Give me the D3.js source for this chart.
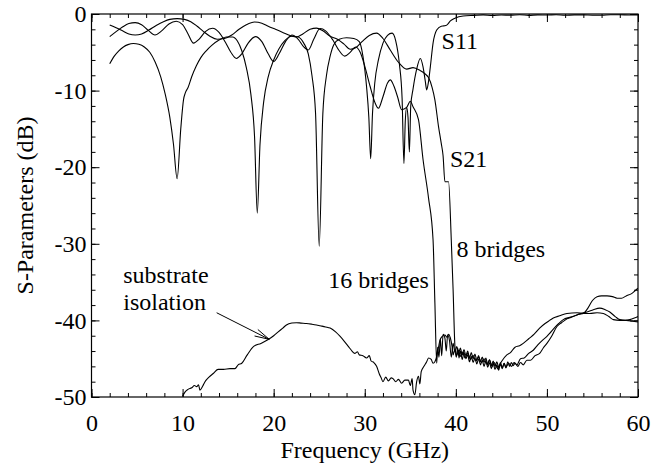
<!DOCTYPE html>
<html>
<head>
<meta charset="utf-8">
<script src="https://cdn.jsdelivr.net/npm/d3@7"></script>
<style>
  html, body { margin: 0; padding: 0; background: #fff; }
  svg { display: block; }
</style>
</head>
<body>
<svg id="chart" width="670" height="471"></svg>
<script>
// ---------------- data ----------------
const xTicks = [0, 10, 20, 30, 40, 50, 60];
const yTicks = [0, -10, -20, -30, -40, -50];
const xLabel = "Frequency (GHz)";
const yLabel = "S-Parameters (dB)";

// S11 (reflection, deep dips), GHz / dB
const s11Freq = [2, 2.5, 3, 3.5, 4, 4.6, 5.2, 5.8, 6.4, 7, 7.6, 8.1, 8.6, 9.0, 9.4, 9.8, 10.1, 10.3, 10.6, 11, 11.5, 12, 12.6, 13.2, 14, 14.8, 15.5, 16.0, 16.5, 17.0, 17.5, 17.9, 18.2, 18.5, 18.9, 19.4, 20, 20.6, 21.2, 22, 22.7, 23.3, 23.8, 24.2, 24.6, 25.0, 25.4, 25.8, 26.2, 26.6, 27.2, 28, 28.8, 29.4, 29.8, 30.2, 30.45, 30.65, 30.85, 31.1, 31.5, 32.0, 32.5, 33.0, 33.4, 33.8, 34.1, 34.3, 34.45, 34.6, 34.75, 34.9, 35.05, 35.3, 35.7, 36.1, 36.4, 36.65, 36.8, 36.95, 37.2, 37.5, 37.9, 38.4, 38.7, 39.0, 39.4, 39.9, 40.8, 42, 43, 44, 45, 46, 47, 48, 49, 50, 51, 52, 53, 54, 55, 56, 57, 58, 59, 60];
const s11Db   = [-6.5, -5.5, -4.8, -4.3, -4.0, -3.85, -3.95, -4.3, -5.0, -6.3, -8.2, -10.5, -13.5, -17, -21.5, -15, -11.2, -10.3, -9.6, -8.2, -6.8, -5.7, -4.8, -4.1, -3.4, -3.0, -3.0, -3.5, -4.8, -7, -10.5, -16, -26, -17, -11.5, -8.2, -6.0, -4.5, -3.5, -2.9, -3.0, -3.8, -5.2, -8, -13, -30.3, -13, -8, -5.5, -4.0, -3.3, -3.1, -3.2, -3.6, -5.5, -9.5, -13.5, -18.9, -13, -9, -6.0, -3.8, -2.8, -2.5, -3.5, -6.5, -11, -19.5, -14, -12.2, -13.5, -18.0, -12, -9.8, -7.2, -5.8, -6.9, -8.8, -9.9, -9.2, -6.9, -3.8, -2.1, -1.6, -1.55, -1.45, -0.9, -0.55, -0.26, -0.18, -0.12, -0.2, -0.14, -0.15, -0.1, -0.18, -0.12, -0.14, -0.1, -0.17, -0.12, -0.12, -0.16, -0.16, -0.1, -0.1, -0.14, -0.12];

// S21, 8 bridges
const s21EightFreq = [2, 2.7, 3.4, 4.1, 4.8, 5.5, 6.3, 7.1, 7.9, 8.6, 9.4, 10.2, 10.9, 11.6, 12.3, 13.0, 13.8, 14.6, 15.4, 16.2, 17.0, 17.9, 18.7, 19.4, 20.2, 21.0, 21.8, 22.5, 23.2, 24.0, 24.7, 25.4, 26.2, 27.0, 27.7, 28.4, 29.0, 29.7, 30.5, 31.3, 32.0, 32.8, 33.7, 34.6, 35.3, 36.1, 36.6, 37.0, 37.4, 37.7, 38.1, 38.4, 38.6, 38.8, 39.2, 39.5, 39.7, 39.9, 40.05, 40.2, 40.35, 40.5, 40.7, 40.9, 41.1, 41.3, 41.5, 41.7, 41.9, 42.1, 42.3, 42.5, 42.7, 42.9, 43.1, 43.3, 43.5, 43.7, 43.9, 44.1, 44.3, 44.5, 44.7, 44.9, 45.1, 45.3, 45.5, 45.7, 45.9, 46.1, 46.3, 46.5, 46.8, 47.1, 47.4, 47.8, 48.2, 48.7, 49.2, 49.6, 50.0, 50.5, 51.1, 51.6, 52.2, 52.9, 53.5, 54.0, 54.5, 55.0, 55.5, 56.0, 56.6, 57.2, 57.7, 58.2, 58.7, 59.3, 59.7, 60];
const s21EightDb   = [-1.44, -1.8, -2.2, -2.6, -2.74, -2.6, -2.1, -1.5, -1.0, -0.7, -0.6, -0.7, -1.0, -1.6, -2.3, -2.9, -3.3, -3.2, -2.74, -2.0, -1.4, -1.05, -1.2, -1.6, -2.0, -2.4, -2.8, -3.0, -2.6, -2.0, -1.85, -2.2, -2.9, -3.3, -3.9, -4.6, -4.4, -3.6, -2.8, -2.5, -3.2, -4.7, -6.3, -7.2, -7.0, -7.4, -7.8, -8.3, -9.6, -11.2, -14.7, -16.9, -18.5, -21.9, -21.9, -29.5, -36, -43.4, -44.8, -43.6, -44.9, -44.0, -45.1, -44.2, -45.0, -44.5, -45.4, -44.7, -45.5, -44.9, -45.7, -45.0, -45.8, -45.2, -46.0, -45.3, -46.1, -45.5, -46.3, -45.6, -46.4, -45.8, -46.5, -45.7, -46.3, -45.6, -46.2, -45.4, -46.0, -45.5, -45.9, -45.6, -46.0, -45.5, -45.8, -45.2, -45.2, -44.6, -44.3, -43.6, -43.0, -42.1, -40.8, -40.3, -39.8, -39.5, -39.2, -39.1, -38.4, -37.4, -36.9, -36.8, -36.8, -36.9, -37.1, -37.1, -36.8, -36.5, -36.1, -35.8];

// S21, 16 bridges
const s21SixteenFreq = [2, 2.7, 3.4, 4.1, 4.8, 5.5, 6.2, 6.97, 7.7, 8.5, 9.3, 10.0, 10.6, 11.2, 11.8, 12.5, 13.3, 14.0, 14.7, 15.3, 15.9, 16.5, 17.2, 18.0, 18.7, 19.4, 20.0, 20.6, 21.3, 22.0, 22.7, 23.3, 23.8, 24.4, 25.1, 25.7, 26.5, 27.2, 27.8, 28.4, 29.0, 29.5, 30.0, 30.6, 31.1, 31.5, 32.0, 32.5, 32.8, 33.2, 33.6, 34.05, 34.6, 35.0, 35.3, 35.9, 36.4, 37.0, 37.5, 37.7, 37.9, 38.0, 38.15, 38.3, 38.45, 38.6, 38.8, 38.95, 39.1, 39.3, 39.5, 39.7, 39.9, 40.1, 40.3, 40.5, 40.7, 40.9, 41.1, 41.3, 41.5, 41.7, 41.9, 42.1, 42.3, 42.5, 42.7, 42.9, 43.1, 43.3, 43.5, 43.7, 43.9, 44.1, 44.3, 44.5, 44.7, 44.9, 45.1, 45.3, 45.5, 45.8, 46.1, 46.4, 46.7, 47.1, 47.5, 48.0, 48.5, 49.0, 49.5, 50.0, 50.3, 50.8, 51.3, 51.8, 52.5, 53.3, 54.0, 54.4, 55.1, 55.8, 56.4, 56.9, 57.5, 58.0, 58.6, 59.1, 59.6, 60];
const s21SixteenDb   = [-2.96, -2.3, -1.7, -1.25, -1.13, -1.4, -2.1, -2.74, -2.2, -1.3, -0.95, -1.4, -2.6, -3.8, -3.3, -2.3, -1.87, -2.4, -3.7, -5.0, -5.8, -5.2, -3.8, -2.96, -3.6, -5.2, -6.2, -5.2, -3.6, -2.74, -3.3, -4.3, -4.7, -3.3, -1.9, -2.2, -3.4, -4.8, -5.5, -5.0, -4.3, -5.0, -6.8, -9.5, -11.5, -12.3, -10.8, -9.0, -8.6, -9.4, -10.8, -12.5, -12.2, -11.4, -12.1, -13.8, -19, -24, -29.5, -37.7, -45.6, -43.5, -44.8, -42.4, -44.6, -41.8, -42.3, -44.0, -41.9, -42.6, -44.8, -43.0, -44.1, -43.4, -44.3, -43.6, -44.5, -43.8, -44.6, -44.0, -44.9, -44.2, -45.0, -44.4, -45.2, -44.6, -45.4, -44.8, -45.5, -44.9, -45.8, -45.1, -45.9, -45.3, -46.0, -45.4, -46.1, -45.5, -46.2, -45.6, -46.1, -45.6, -46.0, -45.5, -45.8, -45.0, -44.9, -44.3, -43.9, -43.2, -42.6, -42.1, -41.7, -41.0, -40.4, -39.9, -39.6, -39.3, -39.0, -38.9, -38.6, -38.4, -38.6, -38.9, -39.5, -39.9, -40.0, -39.9, -39.7, -39.5];

// substrate isolation
const isoFreq = [10.0, 10.3, 10.6, 11.0, 11.3, 11.55, 11.75, 11.9, 12.2, 12.46, 12.9, 13.4, 13.9, 14.5, 15.2, 15.75, 16.1, 16.5, 17.1, 17.8, 18.6, 19.4, 20.0, 20.5, 21.0, 21.4, 22.0, 22.5, 23.0, 23.6, 24.2, 24.7, 25.1, 25.7, 26.2, 26.8, 27.3, 27.8, 28.2, 28.6, 28.9, 29.2, 29.4, 29.8, 30.2, 30.5, 30.7, 31.0, 31.3, 31.6, 31.8, 32.0, 32.3, 32.6, 32.9, 33.1, 33.4, 33.7, 34.05, 34.4, 34.8, 35.0, 35.2, 35.3, 35.5, 35.7, 35.9, 36.05, 36.2, 36.5, 36.8, 37.0, 37.3, 37.5, 37.7, 37.9, 38.1, 38.25, 38.5, 38.8, 39.0, 39.2, 39.4, 39.6, 39.7, 39.9, 40.1, 40.3, 40.5, 40.8, 41.0, 41.3, 41.6, 41.9, 42.2, 42.5, 42.8, 43.1, 43.4, 43.7, 44.0, 44.2, 44.6, 45.0, 45.6, 46.0, 46.5, 47.0, 47.4, 48.0, 48.6, 49.2, 49.8, 50.3, 50.7, 51.4, 52.2, 53.3, 54.0, 54.7, 55.5, 56.2, 56.8, 57.3, 58.0, 58.7, 59.4, 60];
const isoDb   = [-49.9, -49.3, -49.0, -48.8, -48.5, -48.65, -48.4, -49.1, -48.6, -48.0, -47.4, -46.9, -46.4, -46.4, -46.3, -46.3, -45.8, -45.6, -44.5, -43.4, -43.0, -42.5, -42.0, -41.5, -41.0, -40.6, -40.35, -40.3, -40.35, -40.4, -40.5, -40.6, -40.7, -40.85, -41.0, -41.5, -42.1, -42.8, -43.4, -44.0, -44.3, -44.1, -44.5, -44.6, -44.9, -44.6, -45.3, -45.5, -46.0, -47.0, -47.5, -48.0, -47.4, -47.9, -47.5, -47.6, -48.0, -47.7, -48.2, -47.8, -47.8, -48.5, -47.6, -49.1, -49.7, -48.0, -47.3, -48.3, -46.7, -46.0, -45.4, -44.9, -45.1, -45.6, -45.4, -44.7, -43.5, -42.6, -42.1, -41.9, -42.2, -41.8, -42.3, -43.5, -44.5, -43.8, -44.6, -43.9, -44.7, -44.1, -44.9, -44.3, -45.1, -44.6, -45.3, -44.8, -45.5, -45.0, -45.7, -45.2, -46.0, -45.5, -46.3, -45.4, -44.5, -44.2, -43.5, -43.3, -43.0, -42.4, -41.8, -41.0, -40.4, -40.0, -39.7, -39.4, -39.1, -39.0, -39.1, -39.1, -39.0, -39.1, -39.5, -39.9, -40.0, -40.0, -40.1, -40.2];

// annotation texts (data-unit anchors)
const annotations = [
  { text: "S11", f: 38.43, db: -4.57 },
  { text: "S21", f: 39.35, db: -19.93 },
  { text: "8 bridges", f: 40.08, db: -31.7 },
  { text: "16 bridges", f: 25.99, db: -35.8 },
  { text: "substrate", f: 3.49, db: -35.16 },
  { text: "isolation", f: 3.49, db: -38.7 }
];
const arrowFrom = [13.74, -39.0];
const arrowTo = [19.51, -42.47];

// ---------------- chart ----------------
const FONT = '"Liberation Serif", "Tinos", "Times New Roman", "Nimbus Roman", "DejaVu Serif", serif';
const plot = { left: 91.5, right: 638, top: 14, bottom: 397 };
const svg = d3.select("#chart").style("font-family", FONT);

const x = d3.scaleLinear().domain([0, 60]).range([plot.left, plot.right]);
const y = d3.scaleLinear().domain([-50, 0]).range([plot.bottom, plot.top]);

const FS = 24;
const minorX = d3.range(0, 61, 2);
const minorY = d3.range(-50, 1, 2);
const majorLen = 8, minorLen = 4;

function styleAxis(g) {
  g.attr("font-family", null).attr("font-size", null);
  g.select(".domain").remove();
  g.selectAll(".tick line").attr("stroke", "#000").attr("stroke-width", 1);
  g.selectAll(".tick text").style("font-family", FONT).style("font-size", FS + "px").attr("fill", "#000");
}

// minor ticks (all four sides)
svg.append("g").attr("transform", `translate(0,${plot.bottom})`)
  .call(d3.axisBottom(x).tickValues(minorX).tickFormat("").tickSizeInner(-minorLen).tickSizeOuter(0)).call(styleAxis);
svg.append("g").attr("transform", `translate(0,${plot.top})`)
  .call(d3.axisTop(x).tickValues(minorX).tickFormat("").tickSizeInner(-minorLen).tickSizeOuter(0)).call(styleAxis);
svg.append("g").attr("transform", `translate(${plot.left},0)`)
  .call(d3.axisLeft(y).tickValues(minorY).tickFormat("").tickSizeInner(-minorLen).tickSizeOuter(0)).call(styleAxis);
svg.append("g").attr("transform", `translate(${plot.right},0)`)
  .call(d3.axisRight(y).tickValues(minorY).tickFormat("").tickSizeInner(-minorLen).tickSizeOuter(0)).call(styleAxis);

// major ticks with labels
svg.append("g").attr("transform", `translate(0,${plot.bottom})`)
  .call(d3.axisBottom(x).tickValues(xTicks).tickFormat(d => String(d)).tickSizeInner(-majorLen).tickSizeOuter(0).tickPadding(17)).call(styleAxis);
svg.append("g").attr("transform", `translate(0,${plot.top})`)
  .call(d3.axisTop(x).tickValues(xTicks).tickFormat("").tickSizeInner(-majorLen).tickSizeOuter(0)).call(styleAxis);
svg.append("g").attr("transform", `translate(${plot.left},0)`)
  .call(d3.axisLeft(y).tickValues(yTicks).tickFormat(d => String(d)).tickSizeInner(-majorLen).tickSizeOuter(0).tickPadding(5)).call(styleAxis);
svg.append("g").attr("transform", `translate(${plot.right},0)`)
  .call(d3.axisRight(y).tickValues(yTicks).tickFormat("").tickSizeInner(-majorLen).tickSizeOuter(0)).call(styleAxis);

// frame
svg.append("rect")
  .attr("x", plot.left).attr("y", plot.top)
  .attr("width", plot.right - plot.left).attr("height", plot.bottom - plot.top)
  .attr("fill", "none").attr("stroke", "#000").attr("stroke-width", 1.2);

// clip
svg.append("clipPath").attr("id", "clip").append("rect")
  .attr("x", plot.left).attr("y", plot.top - 1)
  .attr("width", plot.right - plot.left).attr("height", plot.bottom - plot.top + 1);

const line = d3.line().x(d => x(d[0])).y(d => y(d[1])).curve(d3.curveMonotoneX);
const series = [
  d3.zip(s11Freq, s11Db),
  d3.zip(s21EightFreq, s21EightDb),
  d3.zip(s21SixteenFreq, s21SixteenDb),
  d3.zip(isoFreq, isoDb)
];
svg.append("g").attr("clip-path", "url(#clip)")
  .selectAll("path").data(series).join("path")
  .attr("d", line)
  .attr("fill", "none").attr("stroke", "#000").attr("stroke-width", 1.1)
  .attr("stroke-linejoin", "round");

// axis titles
svg.append("text")
  .attr("x", (plot.left + plot.right) / 2).attr("y", 458)
  .attr("text-anchor", "middle").style("font-family", FONT).style("font-size", FS + "px").text(xLabel);
svg.append("text")
  .attr("transform", `translate(33,${(plot.top + plot.bottom) / 2}) rotate(-90)`)
  .attr("text-anchor", "middle").style("font-family", FONT).style("font-size", FS + "px").text(yLabel);

// annotations
svg.append("g").selectAll("text").data(annotations).join("text")
  .attr("x", d => x(d.f)).attr("y", d => y(d.db))
  .style("font-family", FONT).style("font-size", FS + "px").text(d => d.text);

// arrow
const ax0 = x(arrowFrom[0]), ay0 = y(arrowFrom[1]);
const ax1 = x(arrowTo[0]), ay1 = y(arrowTo[1]);
const ang = Math.atan2(ay1 - ay0, ax1 - ax0);
const headLen = 15, headAng = 14 * Math.PI / 180;
const ag = svg.append("g").attr("stroke", "#000").attr("stroke-width", 1).attr("fill", "none");
ag.append("line").attr("x1", ax0).attr("y1", ay0).attr("x2", ax1).attr("y2", ay1);
[headAng, -headAng].forEach(a => {
  ag.append("line").attr("x1", ax1).attr("y1", ay1)
    .attr("x2", ax1 - headLen * Math.cos(ang + a))
    .attr("y2", ay1 - headLen * Math.sin(ang + a));
});
</script>
</body>
</html>
